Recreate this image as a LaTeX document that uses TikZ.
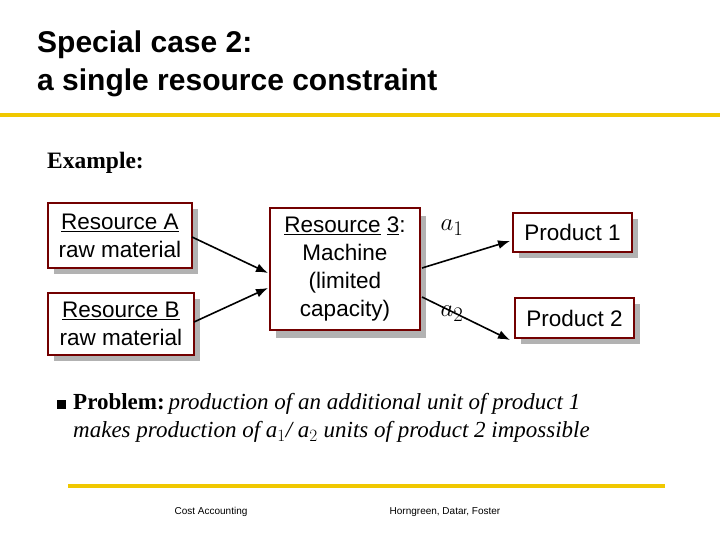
\documentclass[tikz,border=0pt]{standalone}
\usepackage{fontspec}
\setmainfont{Liberation Serif}
\setsansfont{Liberation Sans}
\usetikzlibrary{arrows.meta}
\definecolor{ylw}{RGB}{240,200,0}
\begin{document}
\begin{tikzpicture}[x=1pt,y=-1pt,
  bx/.style={draw=red!45!black,line width=1.2pt,fill=white,inner sep=0pt,
    font=\sffamily\fontsize{22.5}{28}\selectfont,align=center},
  shd/.style={fill=gray!60},
  arr/.style={-{Latex[length=12pt,width=9pt]},line width=1.6pt},
  yl/.style={draw=ylw,line width=4.5pt}]
\useasboundingbox (0,0) rectangle (720,540);
\node[anchor=north west,align=left,inner sep=0pt,font=\sffamily\bfseries\fontsize{30}{38}\selectfont] (title) at (37,31) {Special case 2:\\a single resource constraint};
\draw[yl] (0,115) -- (720,115);
\node[anchor=west,inner sep=0pt,font=\bfseries\fontsize{23.5}{26}\selectfont] (ex) at (47,163) {Example:};
% shadows
\fill[shd] (54,209) rectangle (198,274);
\fill[shd] (54,299) rectangle (200,361);
\fill[shd] (276,216) rectangle (426,338);
\fill[shd] (519,219) rectangle (638,258);
\fill[shd] (521,304) rectangle (640,344);
\node[bx,minimum width=144pt,minimum height=65pt] (ra) at (120,235.5) {\underline{Resource A}\\raw material};
\node[bx,minimum width=146pt,minimum height=62pt] (rb) at (121,324) {\underline{Resource B}\\raw material};
\node[bx,minimum width=150pt,minimum height=122pt] (m) at (345,269) {\underline{Resource} \underline{3}:\\Machine\\(limited\\capacity)};
\node[bx,minimum width=119pt,minimum height=39pt] (p1) at (572.5,232.5) {Product 1};
\node[bx,minimum width=119pt,minimum height=40pt] (p2) at (574.5,318) {Product 2};
\draw[arr] (192,237) -- (268,273);
\draw[arr] (194,322) -- (268,288);
\draw[arr] (422,268) -- (510,241);
\draw[arr] (422,297) -- (510,340);
\node[font=\fontsize{28}{30}\selectfont] (a1) at (452,228) {$a_1$};
\node[font=\fontsize{28}{30}\selectfont] (a2) at (452,314) {$a_2$};
\fill (57,400) rectangle (66,409);
\node[anchor=north west,align=left,inner sep=0pt,font=\fontsize{23}{28}\selectfont] (pr) at (73,393)
 {\textbf{Problem:}\,\textit{production of an additional unit of product 1}\\
  \textit{makes production of a$_1$/ a$_2$ units of product 2 impossible}};
\draw[yl] (68,486) -- (665,486);
\node[font=\sffamily\fontsize{10}{11}\selectfont] (f1) at (211,512) {Cost Accounting};
\node[font=\sffamily\fontsize{10}{11}\selectfont] (f2) at (445,512) {Horngreen, Datar, Foster};
\end{tikzpicture}
\end{document}
